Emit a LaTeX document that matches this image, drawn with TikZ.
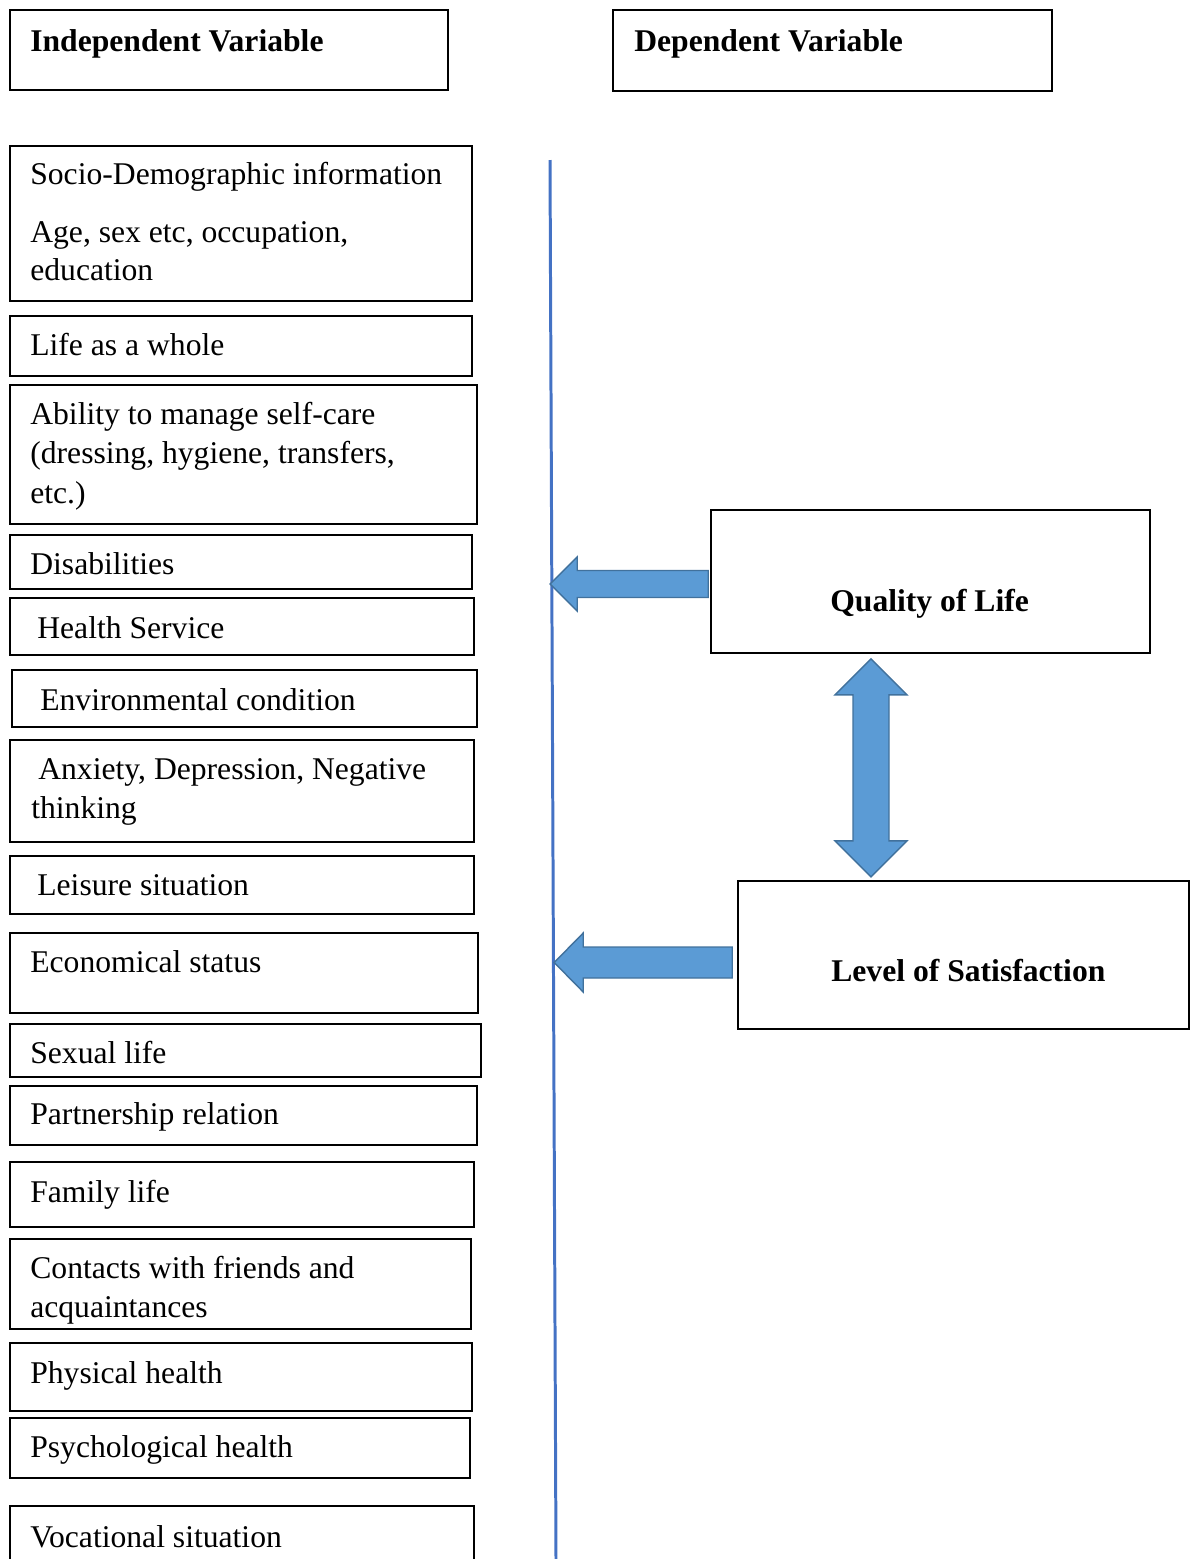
\documentclass[tikz,border=0pt]{standalone}
\usepackage{fontspec}
\setmainfont{Liberation Serif}
\usepackage{xcolor}
\usepackage{tikz}
\usetikzlibrary{calc, fit}
\definecolor{axisblue}{RGB}{68,114,196}
\definecolor{arrowfill}{RGB}{91,155,213}
\definecolor{arrowedge}{RGB}{65,113,156}

\tikzset{
    box/.style={draw, line width=0.9pt, inner sep=0pt},
    txt/.style={anchor=base west, inner sep=0pt, font=\fontsize{18}{22}\selectfont},
    headtxt/.style={txt, font=\fontsize{18}{22}\selectfont\bfseries},
    blockarrow/.style={fill=arrowfill, draw=arrowedge, line width=0.8pt, line join=miter},
    axisline/.style={draw=axisblue, line width=1.7pt}
}

\begin{document}
\begin{tikzpicture}[x=0.02cm, y=-0.02cm]
    \clip (0,0) rectangle (1193,1559);

    % Header boxes
    \node[box, fit={(10,10) (448,90)}] (indep) {};
    \node[headtxt] (indeptxt) at (30,51) {Independent Variable};
    \node[box, fit={(613,10) (1052,91)}] (dep) {};
    \node[headtxt] (deptxt) at (634,51) {Dependent Variable};

    % Independent variables
    \node[box, fit={(10,146) (472,301)}] (socio) {};
    \node[txt] (sociotxta) at (30,184) {Socio-Demographic information};
    \node[txt] (sociotxtb) at (30,242) {Age, sex etc, occupation,};
    \node[txt] (sociotxtc) at (30,280) {education};

    \node[box, fit={(10,316) (472,376)}] (whole) {};
    \node[txt] (wholetxt) at (30,355) {Life as a whole};

    \node[box, fit={(10,385) (477,524)}] (selfcare) {};
    \node[txt] (selfcaretxta) at (30,424) {Ability to manage self-care};
    \node[txt] (selfcaretxtb) at (30,463) {(dressing, hygiene, transfers,};
    \node[txt] (selfcaretxtc) at (30,503) {etc.)};

    \node[box, fit={(10,535) (472,589)}] (disab) {};
    \node[txt] (disabtxt) at (30,574) {Disabilities};

    \node[box, fit={(10,598) (474,655)}] (health) {};
    \node[txt] (healthtxt) at (37,638) {Health Service};

    \node[box, fit={(12,670) (477,727)}] (environ) {};
    \node[txt] (environtxt) at (40,710) {Environmental condition};

    \node[box, fit={(10,740) (474,842)}] (anxiety) {};
    \node[txt] (anxietytxta) at (38,779) {Anxiety, Depression, Negative};
    \node[txt] (anxietytxtb) at (31,818) {thinking};

    \node[box, fit={(10,856) (474,914)}] (leisure) {};
    \node[txt] (leisuretxt) at (37,895) {Leisure situation};

    \node[box, fit={(10,933) (478,1013)}] (econ) {};
    \node[txt] (econtxt) at (30,972) {Economical status};

    \node[box, fit={(10,1024) (481,1077)}] (sexual) {};
    \node[txt] (sexualtxt) at (30,1063) {Sexual life};

    \node[box, fit={(10,1086) (477,1145)}] (partner) {};
    \node[txt] (partnertxt) at (30,1124) {Partnership relation};

    \node[box, fit={(10,1162) (474,1227)}] (family) {};
    \node[txt] (familytxt) at (30,1202) {Family life};

    \node[box, fit={(10,1239) (471,1329)}] (contacts) {};
    \node[txt] (contactstxta) at (30,1278) {Contacts with friends and};
    \node[txt] (contactstxtb) at (30,1317) {acquaintances};

    \node[box, fit={(10,1343) (472,1411)}] (physical) {};
    \node[txt] (physicaltxt) at (30,1383) {Physical health};

    \node[box, fit={(10,1418) (470,1478)}] (psych) {};
    \node[txt] (psychtxt) at (30,1457) {Psychological health};

    \node[box, fit={(10,1506) (474,1590)}] (vocation) {};
    \node[txt] (vocationtxt) at (30,1547) {Vocational situation};

    % Dividing line
    \coordinate (ltop) at (550,160);
    \coordinate (lbot) at (556,1559);
    \draw[axisline] (ltop) -- (lbot);

    % Dependent variables
    \node[box, fit={(711,510) (1150,653)}] (qol) {};
    \node[headtxt] (qoltxt) at (830,611) {Quality of Life};
    \node[box, fit={(738,881) (1189,1029)}] (los) {};
    \node[headtxt] (lostxt) at (831,981) {Level of Satisfaction};

    % Block arrows
    \draw[blockarrow] ($(qol.west)+(-2,-11)$) -- ++(-131,0) -- ++(0,-13.5)
        -- ++(-27,27) -- ++(27,27) -- ++(0,-13.5) -- ++(131,0) -- cycle;
    \draw[blockarrow] ($(los.west)+(-5,-8)$) -- ++(-149,0) -- ++(0,-14)
        -- ++(-29,29.5) -- ++(29,29.5) -- ++(0,-14) -- ++(149,0) -- cycle;
    \draw[blockarrow] ($(qol.south)+(-59.5,5)$) -- ++(36,36) -- ++(-18,0)
        -- ++(0,146) -- ++(18,0) -- ++(-36,36) -- ++(-36,-36) -- ++(18,0)
        -- ++(0,-146) -- ++(-18,0) -- cycle;
\end{tikzpicture}
\end{document}
